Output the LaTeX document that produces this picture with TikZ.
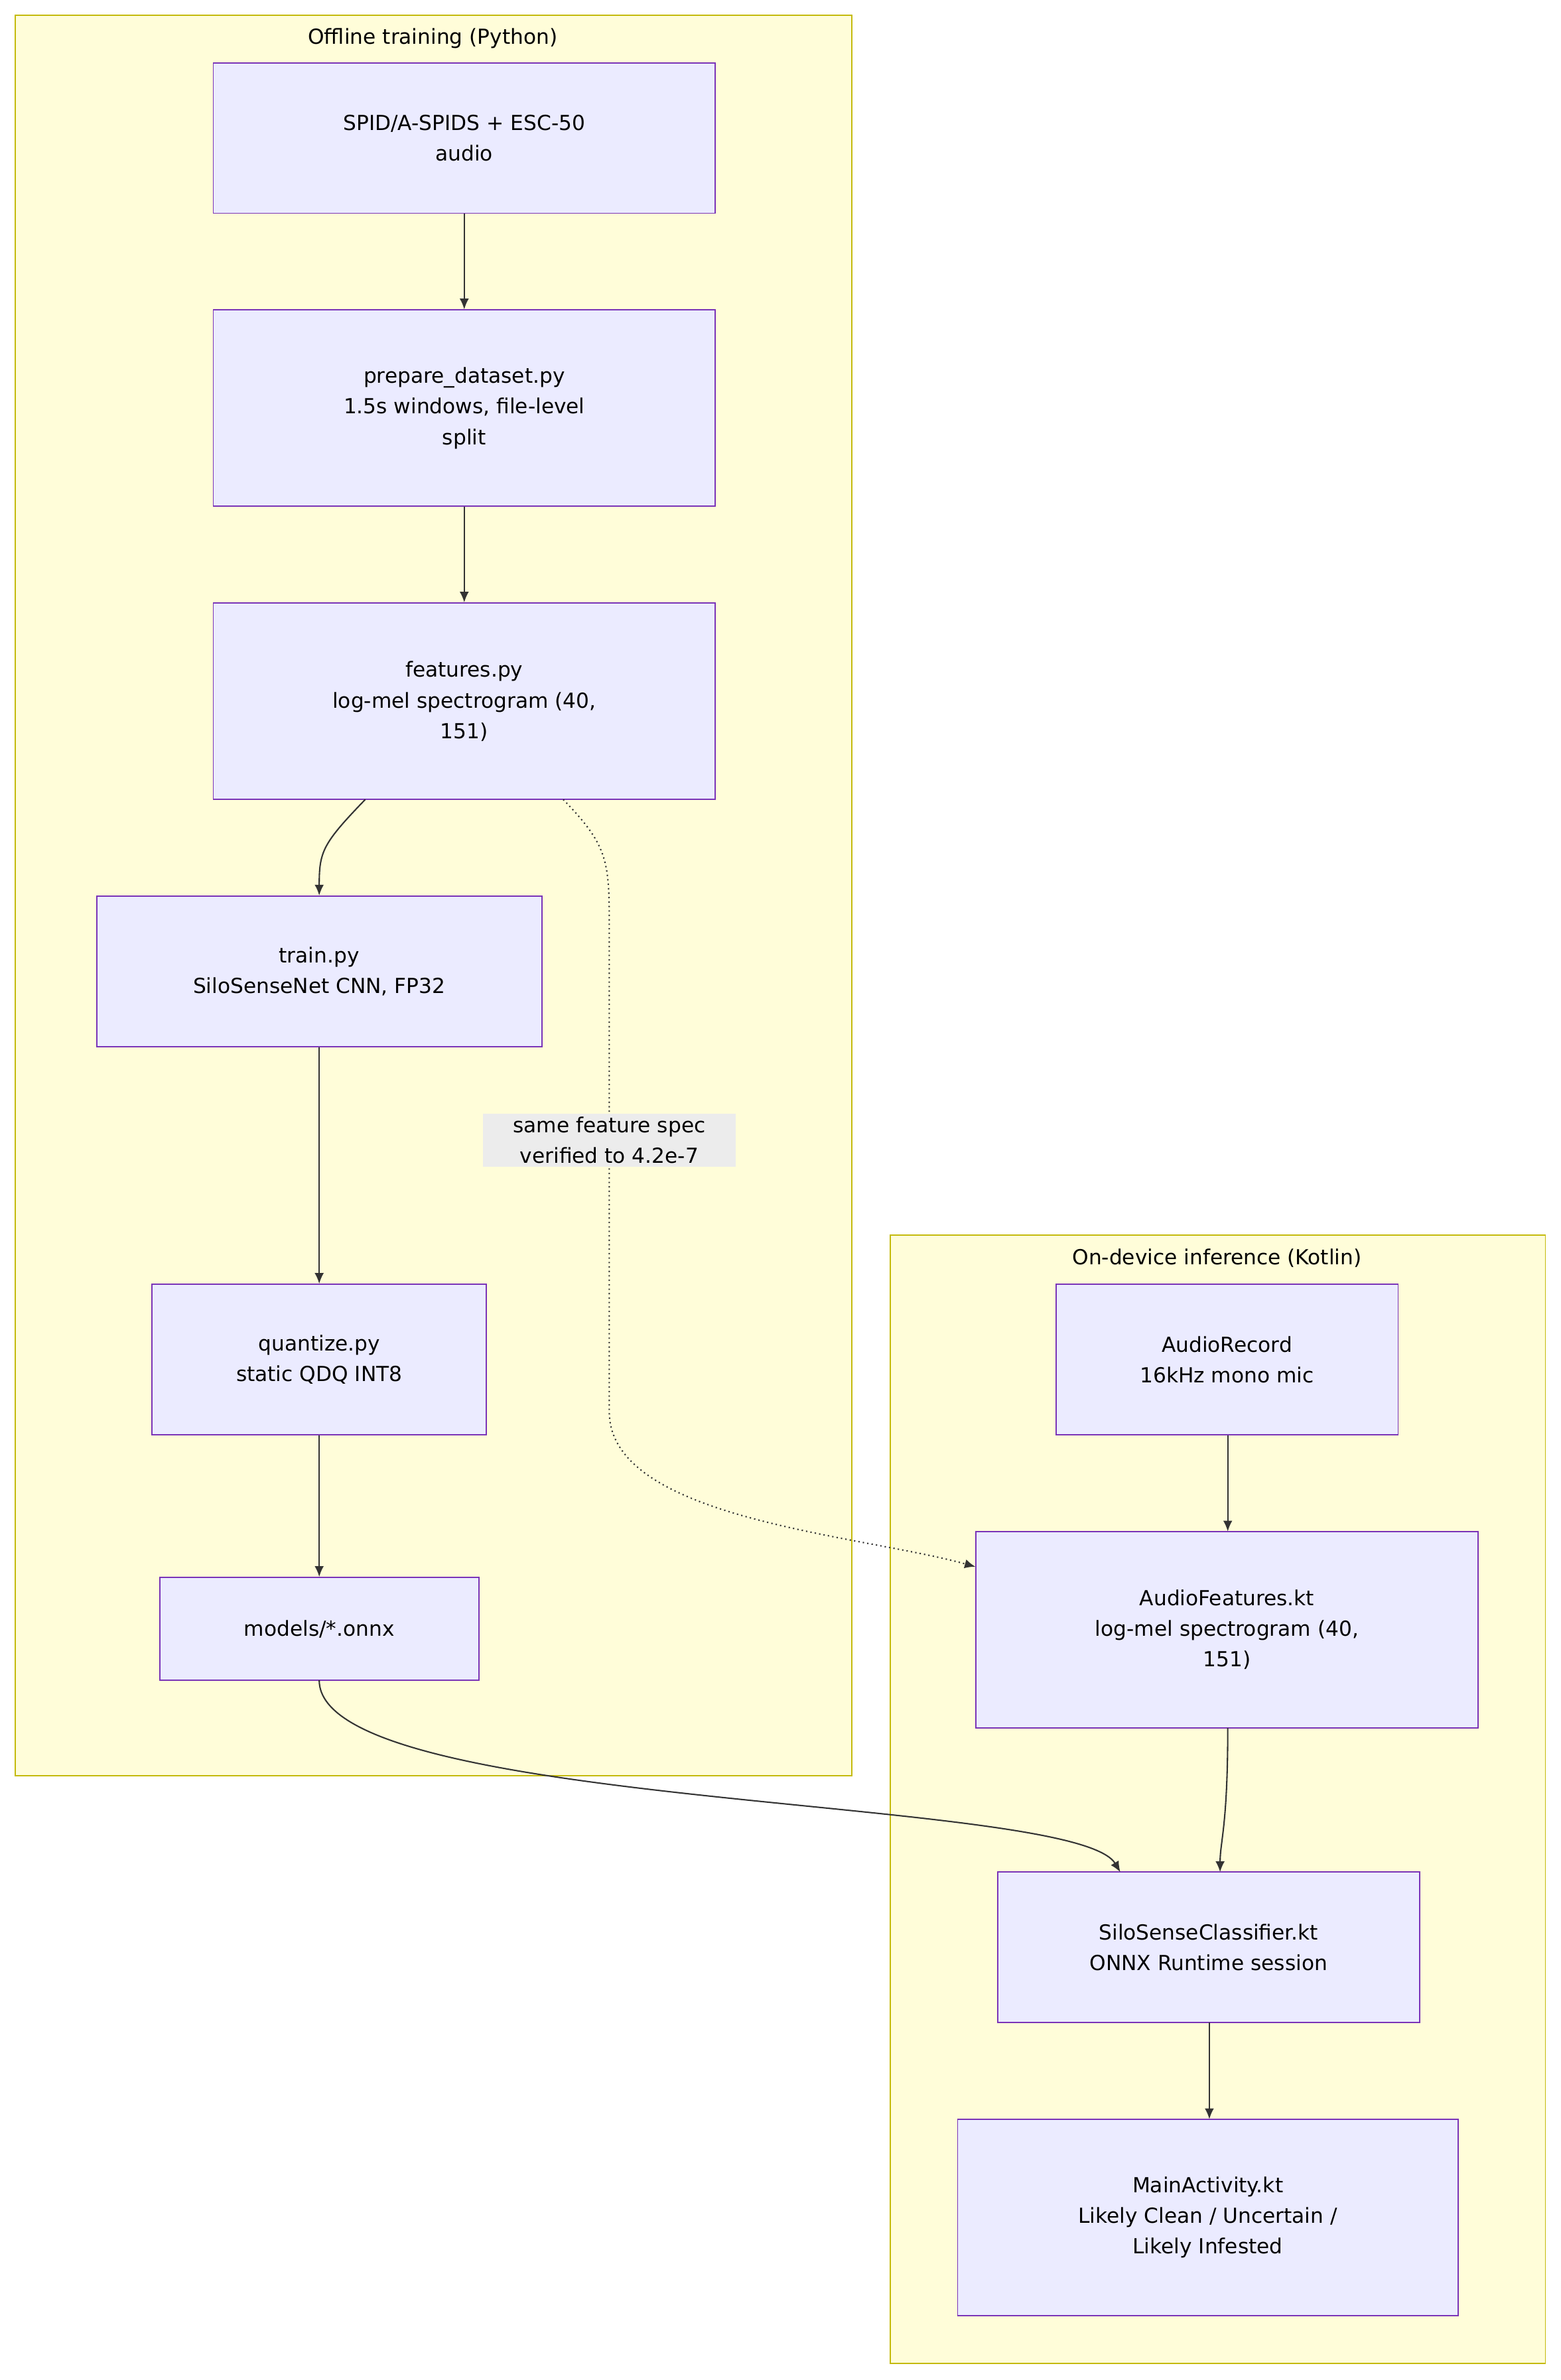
\documentclass[tikz,border=0pt]{standalone}
\usepackage{fontspec}
\setmainfont{DejaVu Sans}
\usetikzlibrary{arrows.meta}
\begin{document}
\begin{tikzpicture}[x=1pt,y=-1pt,
  cl/.style={draw=black!10!yellow!60!olive,fill=yellow!15,line width=0.8pt},
  box/.style={draw=violet!70!blue!80,fill=blue!8,line width=0.8pt,align=center,font=\fontsize{13.5}{20}\selectfont,inner sep=0pt},
  ttl/.style={font=\fontsize{13.5}{20}\selectfont},
  ar/.style={draw=black!80,line width=0.9pt,-{Latex[length=7pt,width=6pt]}}]
\useasboundingbox (0,0) rectangle (1017,1551);
\fill[white] (0,0) rectangle (1017,1551);
\draw[cl] (10,10) rectangle (555,1157);
\node[ttl] (t1) at (282,25) {Offline training (Python)};
\draw[cl] (580,805) rectangle (1007,1540);
\node[ttl] (t2) at (793,820) {On-device inference (Kotlin)};
\newcommand{\bx}[6]{\node[box,minimum width=#4-#2,minimum height=#5-#3] (#1) at ({(#2+#4)/2},{(#3+#5)/2}) {#6};}
\bx{n1}{139}{41}{466}{139}{SPID/A-SPIDS + ESC-50\\audio}
\bx{n2}{139}{202}{466}{330}{prepare\_dataset.py\\1.5s windows, file-level\\split}
\bx{n3}{139}{393}{466}{521}{features.py\\log-mel spectrogram (40,\\151)}
\bx{n4}{63}{584}{353}{682}{train.py\\SiloSenseNet CNN, FP32}
\bx{n5}{99}{837}{317}{935}{quantize.py\\static QDQ INT8}
\bx{n6}{104}{1028}{312}{1095}{models/*.onnx}
\bx{a1}{688}{837}{911}{935}{AudioRecord\\16kHz mono mic}
\bx{a2}{636}{998}{963}{1126}{AudioFeatures.kt\\log-mel spectrogram (40,\\151)}
\bx{a3}{650}{1220}{925}{1318}{SiloSenseClassifier.kt\\ONNX Runtime session}
\bx{a4}{624}{1381}{950}{1509}{MainActivity.kt\\Likely Clean / Uncertain /\\Likely Infested}
\draw[ar] (n1) -- (n2);
\draw[ar] (n2) -- (n3);
\draw[ar] (238,521) .. controls (210,550) and (208,555) .. (n4.north);
\draw[ar] (n4) -- (n5);
\draw[ar] (n5) -- (n6);
\draw[ar,dotted] (367,521) .. controls (395,550) and (397,560) .. (397,600) -- (397,920) .. controls (397,990) and (560,1000) .. (a2.west|-0,1021);
\node[fill=gray!15,align=center,font=\fontsize{13.5}{20}\selectfont,inner sep=2pt,minimum width=165] (lbl) at (397,743) {same feature spec\\verified to 4.2e-7};
\draw[ar] (208,1095) .. controls (208,1180) and (700,1170) .. (730,1220);
\draw[ar] (800,1126) .. controls (800,1190) and (795,1200) .. (795,1220);
\draw[ar] (a1.south-|800,0) -- (800,998);
\draw[ar] (788,1318) -- (788,1381);
\end{tikzpicture}
\end{document}
